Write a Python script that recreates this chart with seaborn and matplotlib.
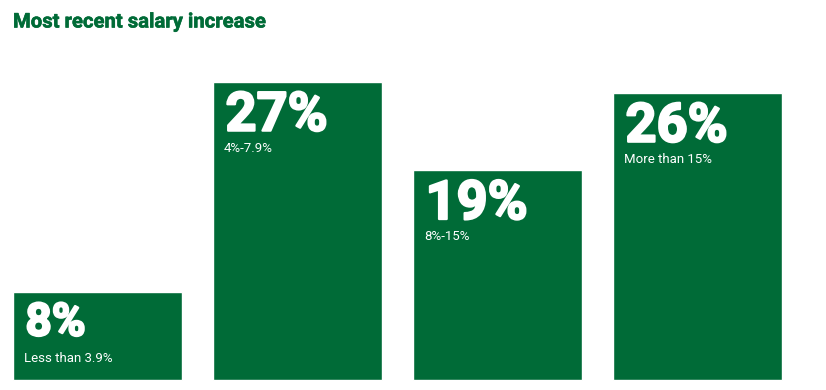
"""Most recent salary increase - block bar chart."""
import matplotlib
matplotlib.use("Agg")
import matplotlib.pyplot as plt
import matplotlib.patheffects as pe
import seaborn as sns

GREEN = "#006B37"

# data
ranges = ["Less than 3.9%", "4%-7.9%", "8%-15%", "More than 15%"]
shares = [8, 27, 19, 26]
share_labels = ["8%", "27%", "19%", "26%"]

sns.set_theme(style="white")
plt.rcParams["font.family"] = ["Roboto", "DejaVu Sans"]

W, H = 826, 390
fig = plt.figure(figsize=(W / 100, H / 100), dpi=100)
ax = fig.add_axes([0, 0, 1, 1])

bar_w = 0.845
sns.barplot(x=ranges, y=shares, color=GREEN, saturation=1, width=bar_w,
            ax=ax)

# pixel layout: bars 200px apart, first bar starts at x=13, baseline at y=380
px_per_unit = 11.05
ax.set_xlim(-97.5 / 200, (W - 97.5) / 200)
ax.set_ylim(-10 / px_per_unit, (H - 10) / px_per_unit)
ax.axis("off")

heavy = [pe.withStroke(linewidth=1.6, foreground="white")]
for i, (val, big, small) in enumerate(zip(shares, share_labels, ranges)):
    left = i - bar_w / 2
    size = 33 if val < 10 else 39
    drop = 44 if val < 10 else 49
    ax.annotate(big, (left, val), xytext=(12.5, -drop), textcoords="offset pixels",
                ha="left", va="baseline", color="white", fontsize=size,
                fontweight="bold", path_effects=heavy)
    ax.annotate(small, (left, val), xytext=(11, -70), textcoords="offset pixels",
                ha="left", va="baseline", color="white", fontsize=9.5)

fig.text(13 / W, 1 - 27.5 / H, "Most recent salary increase", ha="left",
         va="baseline", color=GREEN, fontsize=14.6, fontweight="bold",
         path_effects=[pe.withStroke(linewidth=0.4, foreground=GREEN)])

fig.savefig("out.png", dpi=100)
